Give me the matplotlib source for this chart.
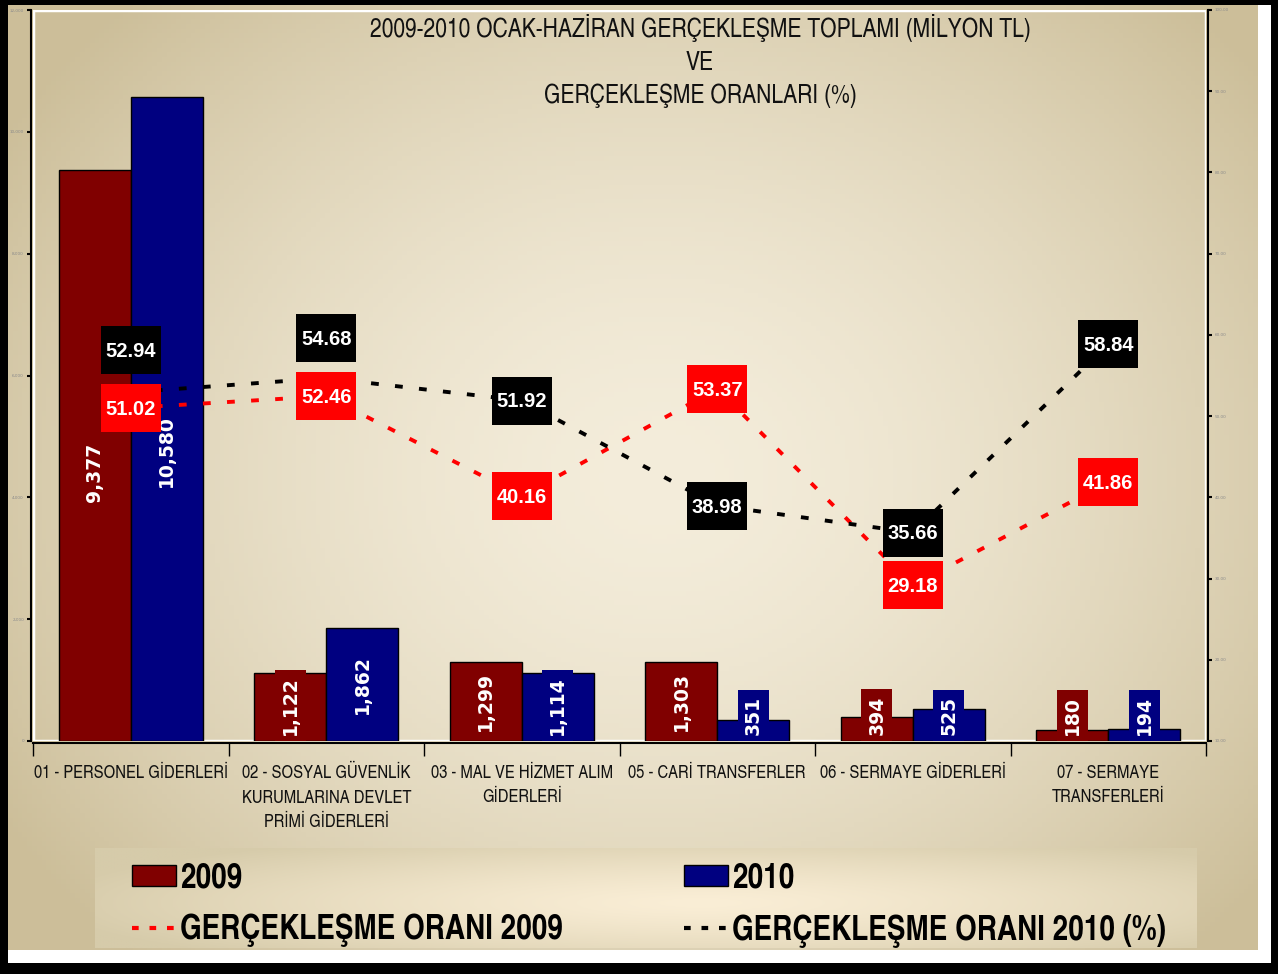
import numpy as np
import matplotlib
matplotlib.use("Agg")
import matplotlib.pyplot as plt
from matplotlib.patches import Rectangle, Patch
from matplotlib.lines import Line2D
from matplotlib.transforms import ScaledTranslation

# Veriler (milyon TL ve %)
kategoriler = [
    "01 - PERSONEL GİDERLERİ",
    "02 - SOSYAL GÜVENLİK\nKURUMLARINA DEVLET\nPRİMİ GİDERLERİ",
    "03 - MAL VE HİZMET ALIM\nGİDERLERİ",
    "05 - CARİ TRANSFERLER",
    "06 - SERMAYE GİDERLERİ",
    "07 - SERMAYE\nTRANSFERLERİ",
]
toplam_2009 = [9377, 1122, 1299, 1303, 394, 180]
toplam_2010 = [10580, 1862, 1114, 351, 525, 194]
oran_2009 = [51.02, 52.46, 40.16, 53.37, 29.18, 41.86]
oran_2010 = [52.94, 54.68, 51.92, 38.98, 35.66, 58.84]

# etiketlerin elle kaydirilmasi (piksel)
kayma_bar_2009 = [-17, 0, 0, 0, 0, 0]
kayma_bar_2010 = [-32, 0, 0, 0, 0, 0]
kayma_oran_2010 = [42, 40, 0, 0, 0, 0]

W, H = 1278, 974
fig = plt.figure(figsize=(W / 100, H / 100), dpi=100, facecolor="black")

dar = ["TeX Gyre Heros Cn", "Liberation Sans Narrow", "Liberation Sans", "DejaVu Sans"]


def fx(px):
    return px / W


def fy(py):
    return 1 - py / H


def gradyan(h, w, merkez, kenar, cx=0.5, cy=0.5, rx=0.75, ry=0.75, us=1.6):
    yy, xx = np.mgrid[0:1:h * 1j, 0:1:w * 1j]
    d = np.sqrt(((xx - cx) / rx) ** 2 + ((yy - cy) / ry) ** 2)
    t = np.clip(d, 0, 1) ** us
    m = np.array(merkez) / 255.0
    k = np.array(kenar) / 255.0
    return m[None, None, :] * (1 - t[..., None]) + k[None, None, :] * t[..., None]


# beyaz kenar + bej arka plan
fig.patches.append(Rectangle((fx(8), fy(963)), fx(1271) - fx(8), fy(5) - fy(963),
                             transform=fig.transFigure, facecolor="white",
                             edgecolor="none", zorder=-20))
bg = fig.add_axes([fx(8), fy(950), fx(1258) - fx(8), fy(5) - fy(950)])
bg.imshow(gradyan(200, 260, (244, 237, 219), (204, 190, 153), cx=0.52, cy=0.5,
                  rx=0.62, ry=0.7), extent=(0, 1, 0, 1), aspect="auto")
bg.axis("off")
bg.set_zorder(-10)

# lejant arka plani
lg = fig.add_axes([fx(95), fy(948), fx(1197) - fx(95), fy(848) - fy(948)])
lg.imshow(gradyan(60, 300, (250, 238, 214), (214, 203, 170), cx=0.55, cy=0.55,
                  rx=0.6, ry=0.75, us=1.3), extent=(0, 1, 0, 1), aspect="auto")
lg.axis("off")
lg.set_zorder(-9)

# ana eksen
ax = fig.add_axes([fx(33), fy(741), fx(1206) - fx(33), fy(10) - fy(741)])
ax.patch.set_alpha(0)
ax.add_patch(Rectangle((0, 0), 1, 1, transform=ax.transAxes, fill=False,
                       edgecolor="white", lw=2.5, zorder=0))
# spine konumu tick'leri sifirladigi icin once
for s in ["left", "bottom"]:
    ax.spines[s].set_linewidth(1.5)
    ax.spines[s].set_position(("outward", 1.5))
ax.spines["top"].set_visible(False)
ax.spines["right"].set_visible(False)

x = np.arange(len(kategoriler))
w = 0.368
r09 = "#800000"
r10 = "#000080"
ax.bar(x - w / 2, toplam_2009, w, color=r09, edgecolor="black", lw=1, zorder=2)
ax.bar(x + w / 2, toplam_2010, w, color=r10, edgecolor="black", lw=1, zorder=2)
ax.set_xlim(-0.5, 5.5)
ax.set_ylim(0, 12000)
ax.set_yticks(range(0, 12001, 2000))
ax.set_yticklabels([f"{v:,}" for v in range(0, 12001, 2000)])
ax.tick_params(axis="y", labelsize=3, labelcolor="#8a8a8a", length=3, width=1.5, pad=2)

ax.tick_params(axis="x", which="major", length=9, width=1, direction="out")
ax.tick_params(axis="x", which="minor", length=0, pad=16)
ax.set_xticks(np.arange(-0.5, 6, 1))
ax.set_xticklabels([])
ax.set_xticks(x, minor=True)
ax.set_xticklabels(kategoriler, minor=True, family=dar, fontsize=13,
                   color="#111111", linespacing=1.55, va="top")

# bar etiketleri
etiketler = []
for xs, vals, renk, kaymalar in [(x - w / 2, toplam_2009, r09, kayma_bar_2009),
                                 (x + w / 2, toplam_2010, r10, kayma_bar_2010)]:
    for xi, v, dy in zip(xs, vals, kaymalar):
        a = ax.annotate(f"{v:,}", (xi, v / 2), xytext=(0, dy * 0.72),
                        textcoords="offset points", rotation=90, ha="center",
                        va="center", color="white", fontweight="bold",
                        fontsize=13.5, family="DejaVu Sans",
                        bbox=dict(boxstyle="square,pad=0.33", fc=renk, ec="none"),
                        zorder=3)
        etiketler.append((a, dy))

# oran ekseni
ax2 = ax.twinx()
for s in ["left", "top", "bottom"]:
    ax2.spines[s].set_visible(False)
ax2.spines["right"].set_linewidth(1.5)
ax2.spines["right"].set_position(("outward", 1.5))
ax2.set_ylim(10, 100)
ax2.set_yticks(range(10, 101, 10))
ax2.set_yticklabels([f"{v:.2f}" for v in range(10, 101, 10)])
ax2.tick_params(axis="y", labelsize=3, labelcolor="#8a8a8a", length=3, width=1.5, pad=2)

cizgi = (0, (2.0, 4.2))
ax2.plot(x, oran_2009, color="red", lw=2.8, linestyle=cizgi, zorder=2)
ax2.plot(x, oran_2010, color="black", lw=2.8, linestyle=cizgi, zorder=2)


def kutu(xi, yi, metin, renk, dy_px):
    tr = fig.dpi_scale_trans + ScaledTranslation(xi, yi, ax2.transData)
    ax2.add_patch(Rectangle((-0.30, -0.24 + dy_px / 100), 0.60, 0.48, transform=tr,
                            facecolor=renk, edgecolor="none", zorder=4))
    ax2.annotate(metin, (xi, yi), xytext=(0, dy_px * 0.72 - 1), textcoords="offset points",
                 ha="center", va="center", color="white", fontweight="bold",
                 fontsize=14.5, family=["Liberation Sans", "DejaVu Sans"], zorder=5)


for xi, v in zip(x, oran_2009):
    kutu(xi, v, f"{v:.2f}", "#ff0000", 0)
for xi, v, dy in zip(x, oran_2010, kayma_oran_2010):
    kutu(xi, v, f"{v:.2f}", "black", dy)

# baslik
fig.text(fx(700), fy(14), "2009-2010 OCAK-HAZİRAN GERÇEKLEŞME TOPLAMI (MİLYON TL)\nVE\n"
         "GERÇEKLEŞME ORANLARI (%)", ha="center", va="top", family=dar,
         fontsize=18.5, linespacing=1.45, color="#111111")

# lejant
tutamaclar = [
    Patch(facecolor=r09, edgecolor="black"),
    Line2D([], [], color="red", lw=3, linestyle=(0, (1.6, 2.6))),
    Patch(facecolor=r10, edgecolor="black"),
    Line2D([], [], color="black", lw=3, linestyle=(0, (1.6, 2.6))),
]
adlar = ["2009", "GERÇEKLEŞME ORANI 2009", "2010", "GERÇEKLEŞME ORANI 2010 (%)"]
fig.legend(tutamaclar, adlar, ncol=2, loc="upper left",
           bbox_to_anchor=(fx(101), fy(832)), frameon=False,
           prop={"family": dar, "weight": "bold", "size": 24.5},
           handlelength=1.3, handleheight=0.55, handletextpad=0.12,
           columnspacing=3.55, labelspacing=0.55)

# kucuk barlarda etiketleri eksenin ustune it
fig.canvas.draw()
taban = ax.transData.transform((0, 0))[1]
for ann, dy in etiketler:
    bb = ann.get_bbox_patch().get_window_extent()
    if bb.y0 < taban:
        ann.xyann = (0, (dy + (taban - bb.y0)) * 0.72)

fig.savefig("out.png", dpi=100, facecolor=fig.get_facecolor())
